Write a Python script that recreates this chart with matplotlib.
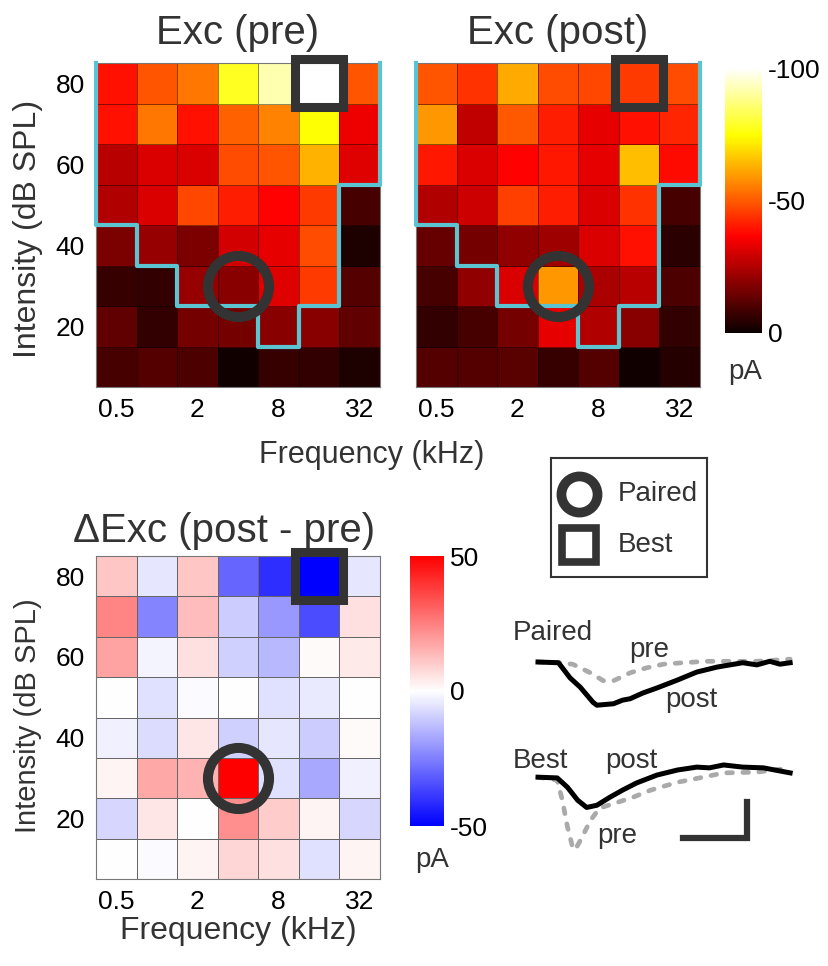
import numpy as np
import matplotlib.pyplot as plt

plt.rcParams['font.family'] = ['Liberation Sans', 'DejaVu Sans']
plt.rcParams['axes.unicode_minus'] = False

# tone grid
freqs = [0.5, 1, 2, 4, 8, 16, 32]            # kHz
levels = [80, 70, 60, 50, 40, 30, 20, 10]    # dB SPL, top row first
freq_ticks = [0.5, 2, 8, 32]
freq_ticklabels = ['0.5', '2', '8', '32']
level_ticks = [20, 40, 60, 80]

# excitatory peak currents (pA), rows follow `levels`
exc_pre = np.array([
    [-39, -49, -54, -78, -92, -100, -49],
    [-39, -54, -39, -51, -56, -75, -34],
    [-26, -31, -31, -48, -49, -63, -32],
    [-25, -31, -47, -41, -37, -45, -9],
    [-17, -21, -17, -30, -33, -48, -3],
    [-7, -6, -21, -19, -32, -45, -11],
    [-13, -6, -16, -16, -19, -19, -13],
    [-9, -11, -10, -1, -7, -6, -3],
])
exc_post = np.array([
    [-49, -44, -62, -48, -47, -45, -48],
    [-59, -27, -50, -41, -33, -39, -42],
    [-40, -31, -37, -40, -33, -65, -38],
    [-25, -29, -46, -41, -31, -44, -9],
    [-14, -16, -20, -22, -31, -39, -5],
    [-9, -20, -31, -59, -24, -26, -10],
    [-6, -9, -16, -33, -25, -19, -6],
    [-11, -11, -12, -7, -11, -1, -4],
])
delta_exc = np.array([
    [11, -5, 11, -30, -41, -50, -5],
    [24, -24, 13, -10, -20, -35, 6],
    [18, -2, 6, -9, -14, 1, 4],
    [0, -6, -1, 0, -6, -4, 0],
    [-3, -7, 5, -9, -5, -10, 1],
    [2, 17, 15, 50, -6, -17, -3],
    [-8, 5, 0, 22, 10, 2, -8],
    [0, -1, 2, 8, 6, -6, 2],
])

# lowest level inside the tuning curve outline, per frequency
threshold = [50, 40, 30, 30, 20, 30, 60]

paired_freq, paired_level = 4, 30
best_freq, best_level = 16, 80

# example traces (ms, pA)
t_paired_post = [0, 16, 25, 33, 43, 46, 59, 66, 72, 82, 93, 109, 124, 140, 150, 160, 171, 181, 189, 197]
i_paired_post = [0, -1, -22, -35, -56, -60, -58, -53, -51, -43, -36, -25, -14, -7, -4, -1, -4, 1, -3, -1]
t_paired_pre = [0, 16, 27, 41, 51, 59, 72, 85, 98, 113, 132, 150, 171, 197]
i_paired_pre = [0, -1, -3, -15, -26, -26, -15, -8, -3, -1, 1, 1, 1, 4]
t_best_post = [0, 15, 23, 31, 38, 46, 56, 66, 77, 93, 109, 124, 134, 145, 160, 176, 197]
i_best_post = [0, -1, -14, -32, -42, -39, -28, -18, -8, 3, 10, 14, 13, 17, 14, 13, 6]
t_best_pre = [0, 15, 19, 23, 27, 29, 33, 41, 48, 62, 74, 88, 109, 129, 145, 171, 197]
i_best_pre = [0, -4, -32, -69, -97, -101, -88, -60, -43, -35, -28, -18, -7, 0, 6, 7, 13]

dark = '#333333'
cyan = '#5cc3d0'
W, H = 829, 966


def px_rect(left, top, right, bottom):
    return [left / W, 1 - bottom / H, (right - left) / W, (bottom - top) / H]


f = np.array(freqs, dtype=float)
f_edges = np.concatenate([f / np.sqrt(2), [f[-1] * np.sqrt(2)]])
l_edges = np.arange(5, 90, 10)


def heatmap(ax, data, cmap, vmin, vmax, edge):
    m = ax.pcolormesh(f_edges, l_edges, np.flipud(data), cmap=cmap, vmin=vmin, vmax=vmax,
                      edgecolors=edge, linewidth=0.6)
    ax.set_xscale('log', base=2)
    ax.set_xlim(f_edges[0], f_edges[-1])
    ax.set_ylim(5, 85)
    ax.minorticks_off()
    ax.set_xticks(freq_ticks)
    ax.set_xticklabels(freq_ticklabels)
    ax.set_yticks(level_ticks)
    ax.tick_params(length=0, labelsize=19, pad=8)
    for s in ax.spines.values():
        s.set_color('#777777')
        s.set_linewidth(0.8)
    ax.plot(paired_freq, paired_level, 'o', ms=44, mfc='none', mec=dark, mew=7.2, clip_on=False, zorder=5)
    ax.plot(best_freq, best_level, 's', ms=34.5, mfc='none', mec=dark, mew=6.5, clip_on=False, zorder=5)
    return m


def outline(ax):
    xs, ys = [f_edges[0]], [85]
    for i, th in enumerate(threshold):
        xs += [f_edges[i], f_edges[i + 1]]
        ys += [th - 5, th - 5]
    xs.append(f_edges[-1])
    ys.append(85)
    ax.plot(xs, ys, color=cyan, lw=3, clip_on=False, zorder=4)


fig = plt.figure(figsize=(W / 100, H / 100), dpi=100)

ax1 = fig.add_axes(px_rect(96, 63, 380, 387))
ax2 = fig.add_axes(px_rect(416, 63, 700, 387))
ax3 = fig.add_axes(px_rect(96, 556, 380, 879))

m1 = heatmap(ax1, exc_pre, 'hot_r', -100, 0, (0, 0, 0, 0.45))
heatmap(ax2, exc_post, 'hot_r', -100, 0, (0, 0, 0, 0.45))
m3 = heatmap(ax3, delta_exc, 'bwr', -50, 50, '#666666')
outline(ax1)
outline(ax2)
ax2.set_yticklabels([])

ax1.set_title('Exc (pre)', fontsize=29, color=dark, pad=14)
ax2.set_title('Exc (post)', fontsize=29, color=dark, pad=14)
ax3.set_title('\u0394Exc (post - pre)', fontsize=29, color=dark, pad=10, x=0.45)

fig.text(28 / W, 1 - 229 / H, 'Intensity (dB SPL)', rotation=90, ha='center', va='center',
         fontsize=23, color=dark)
fig.text(28 / W, 1 - 716 / H, 'Intensity (dB SPL)', rotation=90, ha='center', va='center',
         fontsize=21, color=dark)
fig.text(372 / W, 1 - 463 / H, 'Frequency (kHz)', ha='center', va='baseline', fontsize=22, color=dark)
fig.text(238 / W, 1 - 939 / H, 'Frequency (kHz)', ha='center', va='baseline', fontsize=23, color=dark)

# colorbars
cax1 = fig.add_axes(px_rect(725, 68, 762, 333))
cb1 = fig.colorbar(m1, cax=cax1, ticks=[-100, -50, 0])
cax1.invert_yaxis()
cax2 = fig.add_axes(px_rect(410, 556, 444, 826))
cb2 = fig.colorbar(m3, cax=cax2, ticks=[-50, 0, 50])
for cb in (cb1, cb2):
    cb.outline.set_visible(False)
    cb.ax.tick_params(length=0, labelsize=19, pad=4)
fig.text(745 / W, 1 - 372 / H, 'pA', ha='center', va='center', fontsize=20, color=dark)
fig.text(432 / W, 1 - 860 / H, 'pA', ha='center', va='center', fontsize=20, color=dark)

# legend box
axl = fig.add_axes(px_rect(551, 458, 707, 577))
axl.set_xlim(0, 1)
axl.set_ylim(0, 1)
axl.set_xticks([])
axl.set_yticks([])
for s in axl.spines.values():
    s.set_color(dark)
    s.set_linewidth(1.5)
axl.plot(0.18, 0.70, 'o', ms=26, mfc='none', mec=dark, mew=7)
axl.plot(0.18, 0.27, 's', ms=25, mfc='none', mec=dark, mew=5.5)
axl.text(0.43, 0.70, 'Paired', va='center', ha='left', fontsize=20, color=dark)
axl.text(0.43, 0.27, 'Best', va='center', ha='left', fontsize=20, color=dark)

# traces
axt = fig.add_axes(px_rect(500, 615, 800, 870))
axt.set_xlim(-29.7, 204.7)
axt.set_ylim(-288.9, 65.3)
axt.axis('off')
best_offset = -160
gray = '#aaaaaa'
dash = (0, (1.2, 2.2))
axt.plot(t_paired_pre, i_paired_pre, color=gray, lw=3.4, ls=dash, dash_capstyle='round')
axt.plot(t_paired_post, i_paired_post, color='black', lw=3.6, solid_joinstyle='round')
axt.plot(t_best_pre, np.array(i_best_pre) + best_offset, color=gray, lw=3.4, ls=dash,
         dash_capstyle='round')
axt.plot(t_best_post, np.array(i_best_post) + best_offset, color='black', lw=3.6,
         solid_joinstyle='round')
axt.text(-20, 40, 'Paired', ha='left', va='center', fontsize=20, color=dark)
axt.text(87, 16, 'pre', ha='center', va='center', fontsize=20, color=dark)
axt.text(120, -53, 'post', ha='center', va='center', fontsize=20, color=dark)
axt.text(-20, -138, 'Best', ha='left', va='center', fontsize=20, color=dark)
axt.text(73, -138, 'post', ha='center', va='center', fontsize=20, color=dark)
axt.text(62, -242, 'pre', ha='center', va='center', fontsize=20, color=dark)
# scale bar: 50 ms, 50 pA
sb_t, sb_i = 113, -244
axt.plot([sb_t, sb_t + 50, sb_t + 50], [sb_i, sb_i, sb_i + 50], color=dark, lw=4.5,
         solid_joinstyle='miter')

fig.savefig('out.png', dpi=100)
